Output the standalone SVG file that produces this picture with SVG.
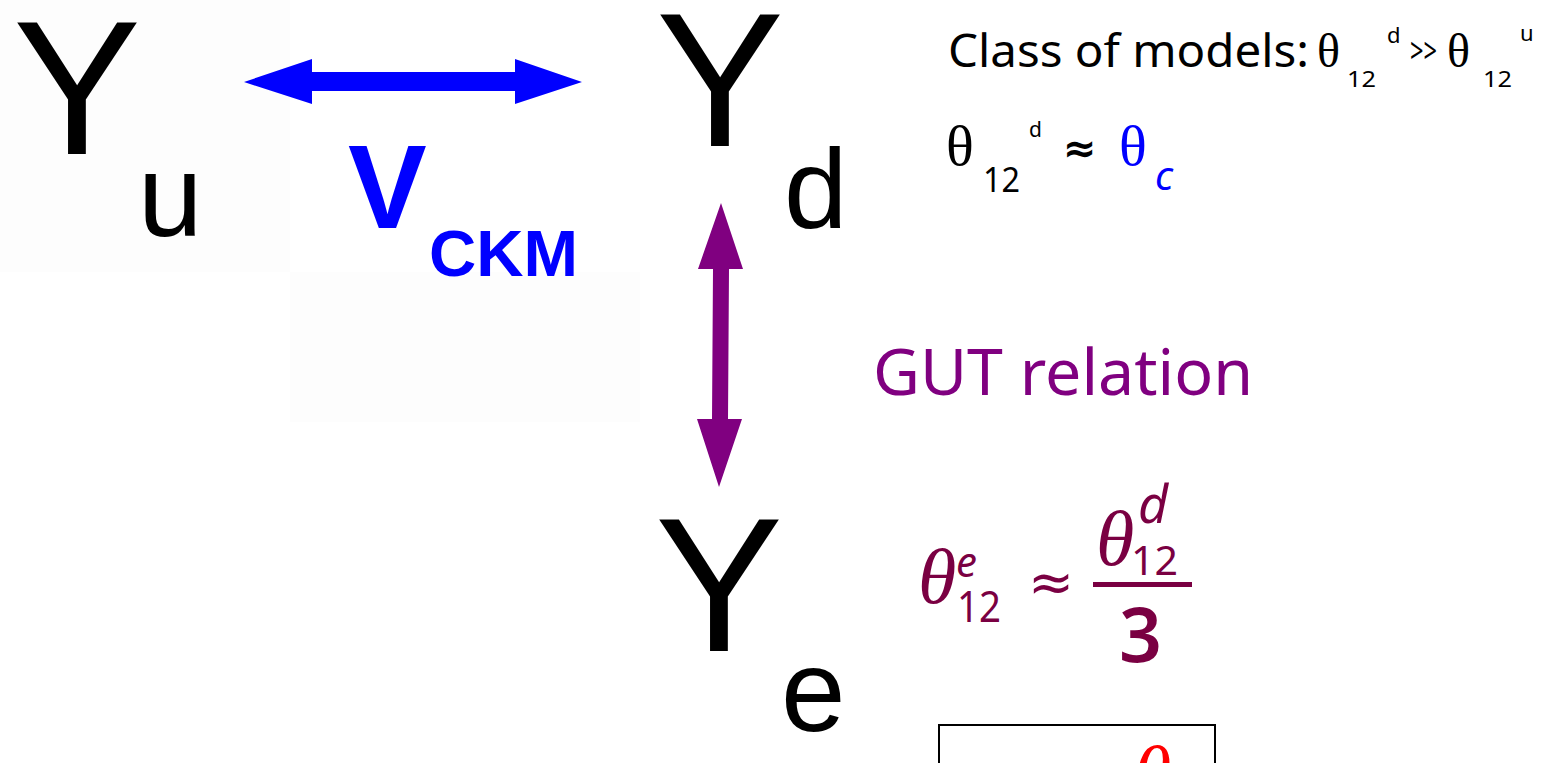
<svg xmlns="http://www.w3.org/2000/svg" width="1542" height="763" viewBox="0 0 1542 763">
<style>
.big{font-family:"Liberation Sans",Arial,sans-serif;fill:#000}
.comic{font-family:"Comic Sans MS","Noto Sans",sans-serif}
.ser{font-family:"Liberation Serif","Times New Roman",serif}
.mar{fill:#7a0042}
</style>
<rect width="1542" height="763" fill="#ffffff"/>
<rect x="0" y="0" width="290" height="272" fill="#fdfdfd"/>
<rect x="290" y="272" width="350" height="150" fill="#fdfdfd"/>
<g id="Yu">
<text class="big" x="13" y="154" font-size="192">Y</text>
<text class="big" x="138" y="236" font-size="116">u</text>
</g>
<g id="Yd">
<text class="big" x="656" y="146" font-size="192">Y</text>
<text class="big" x="784" y="228" font-size="114">d</text>
</g>
<g id="Ye">
<text class="big" x="655" y="651" font-size="192">Y</text>
<text class="big" x="781" y="731" font-size="116">e</text>
</g>
<g id="connectors">
<polygon fill="#0000ff" points="244,82 312,59 312,72 515,72 515,59 582,82 515,104 515,91 312,91 312,104"/>
<polygon fill="#800080" points="721,203 743,269 729,269 728,419 742,419 719,487 697,419 712,419 713,269 698,269"/>
</g>
<g id="label-vckm" fill="#0000ff" font-family="Liberation Sans,Arial,sans-serif" font-weight="bold">
<text x="348" y="228" font-size="118">V</text>
<text x="429" y="276" font-size="64" textLength="149" lengthAdjust="spacingAndGlyphs">CKM</text>
</g>
<g id="label-gut">
<text class="comic" x="873" y="395" font-size="64" fill="#800080" textLength="380" lengthAdjust="spacingAndGlyphs">GUT relation</text>
</g>
<g id="note-class">
<text class="comic" x="948" y="67" font-size="46" fill="#000" textLength="361" lengthAdjust="spacingAndGlyphs">Class of models:</text>
<text class="ser" x="1317" y="67" font-size="48" fill="#000">θ</text>
<text class="comic" x="1347" y="87" font-size="22" fill="#000" textLength="29" lengthAdjust="spacingAndGlyphs">12</text>
<text class="comic" x="1387" y="43" font-size="22" fill="#000">d</text>
<text class="comic" x="1410" y="63" font-size="34" fill="#000" textLength="27" lengthAdjust="spacingAndGlyphs">&gt;&gt;</text>
<text class="ser" x="1447" y="67" font-size="48" fill="#000">θ</text>
<text class="comic" x="1483" y="87" font-size="22" fill="#000" textLength="29" lengthAdjust="spacingAndGlyphs">12</text>
<text class="comic" x="1520" y="41" font-size="22" fill="#000">u</text>
</g>
<g id="note-approx">
<text class="ser" x="946" y="165" font-size="58" fill="#000">θ</text>
<text class="comic" x="983" y="192" font-size="34" fill="#000" textLength="37" lengthAdjust="spacingAndGlyphs">12</text>
<text class="comic" x="1029" y="137" font-size="21" fill="#000">d</text>
<text x="1063" y="162" font-size="40" font-weight="bold" font-family="DejaVu Sans,sans-serif" fill="#000">≈</text>
<text class="ser" x="1119" y="165" font-size="58" fill="#0000ff">θ</text>
<text class="comic" x="1155" y="190" font-size="40" font-style="italic" fill="#0000ff">c</text>
</g>
<g id="formula" class="mar">
<text class="ser" x="918" y="603" font-size="78" font-style="italic">θ</text>
<text class="comic" x="956" y="577" font-size="42" font-style="italic">e</text>
<text class="comic" x="957" y="622" font-size="44" textLength="44" lengthAdjust="spacingAndGlyphs">12</text>
<text x="1028" y="601" font-size="55" font-family="DejaVu Sans,sans-serif">≈</text>
<rect x="1093" y="582" width="99" height="5"/>
<text class="ser" x="1096" y="565" font-size="78" font-style="italic">θ</text>
<text class="comic" x="1138" y="523" font-size="52" font-style="italic">d</text>
<text class="comic" x="1131" y="575" font-size="40" textLength="47" lengthAdjust="spacingAndGlyphs">12</text>
<text class="comic" x="1119" y="662" font-size="75" font-weight="600">3</text>
</g>
<g id="box">
<rect x="939" y="725" width="276" height="80" fill="none" stroke="#000" stroke-width="2"/>
<text class="ser" x="1133" y="800" font-size="78" font-style="italic" fill="#ff0000">θ</text>
</g>
</svg>
